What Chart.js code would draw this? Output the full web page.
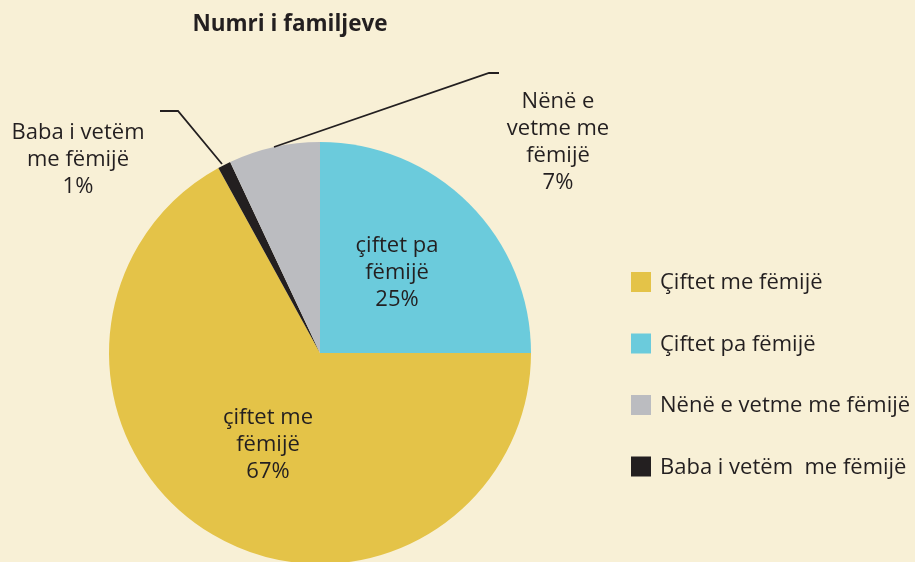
<!DOCTYPE html>
<html>
<head>
<meta charset="utf-8">
<script src="https://cdn.jsdelivr.net/npm/chart.js@4/dist/chart.umd.min.js"></script>
<style>
  html, body { margin: 0; padding: 0; background: #F8F0D6; overflow: hidden; }
  #wrap { width: 915px; height: 600px; position: relative; }
</style>
</head>
<body>
<div id="wrap"><canvas id="grafFamilje" width="915" height="600"></canvas></div>
<script>
// te dhenat (renditja e legjendes)
let kategorite = ['Çiftet me fëmijë', 'Çiftet pa fëmijë', 'Nënë e vetme me fëmijë', 'Baba i vetëm  me fëmijë']
let perqindjet = [67, 25, 7, 1]
let etiketat = [
    ['çiftet me', 'fëmijë', '67%'],
    ['çiftet pa', 'fëmijë', '25%'],
    ['Nënë e', 'vetme me', 'fëmijë', '7%'],
    ['Baba i vetëm', 'me fëmijë', '1%']
]
let ngjyrat = ['#E4C348', '#6BCBDC', '#BBBCC0', '#231F20']

// renditja ne pite, ne drejtim te akrepave nga lart
let rendiPites = [1, 0, 3, 2]

// pozicionet e etiketave (jashte te dhenave)
let pozEtiketa = [
    { x: 268, y: 418 },
    { x: 397, y: 246 },
    { x: 558, y: 102 },
    { x: 78, y: 133 }
]
let vijat = [
    null,
    null,
    [[499, 73], [489, 73], [274, 147]],
    [[160, 111], [178, 111], [222, 164]]
]

const font = '"Open Sans", "Noto Sans", sans-serif'
const ngjyraTeksti = '#231F20'

const pluginTekst = {
    id: 'tekstet',
    afterDraw(chart) {
        let ctx = chart.ctx
        ctx.save()
        // titulli
        ctx.fillStyle = ngjyraTeksti
        ctx.font = 'bold 22.5px ' + font
        ctx.textAlign = 'center'
        ctx.textBaseline = 'middle'
        ctx.fillText('Numri i familjeve', 290, 25)

        // vijat udhezuese
        ctx.strokeStyle = ngjyraTeksti
        ctx.lineWidth = 1.8
        vijat.forEach(v => {
            if (!v) return
            ctx.beginPath()
            ctx.moveTo(v[0][0], v[0][1])
            for (let i = 1; i < v.length; i++) ctx.lineTo(v[i][0], v[i][1])
            ctx.stroke()
        })

        // etiketat
        ctx.font = '22px ' + font
        etiketat.forEach((rreshtat, i) => {
            let p = pozEtiketa[i]
            rreshtat.forEach((r, j) => {
                ctx.fillText(r, p.x, p.y + j * 27)
            })
        })

        // legjenda
        ctx.textAlign = 'left'
        kategorite.forEach((k, i) => {
            let y = 282 + i * 61.5
            ctx.fillStyle = ngjyrat[i]
            ctx.fillRect(631, y - 10, 20, 20)
            ctx.fillStyle = ngjyraTeksti
            ctx.fillText(k, 660, y + 1)
        })
        ctx.restore()
    }
}

new Chart(document.querySelector('#grafFamilje'), {
    type: 'pie',
    data: {
        labels: rendiPites.map(i => kategorite[i]),
        datasets: [{
            data: rendiPites.map(i => perqindjet[i]),
            backgroundColor: rendiPites.map(i => ngjyrat[i]),
            borderWidth: 0
        }]
    },
    options: {
        responsive: false,
        animation: false,
        rotation: 0,
        layout: {
            padding: { top: 142, bottom: 36, left: 109, right: 384 }
        },
        plugins: {
            legend: { display: false },
            tooltip: { enabled: false }
        }
    },
    plugins: [pluginTekst]
})
</script>
</body>
</html>
